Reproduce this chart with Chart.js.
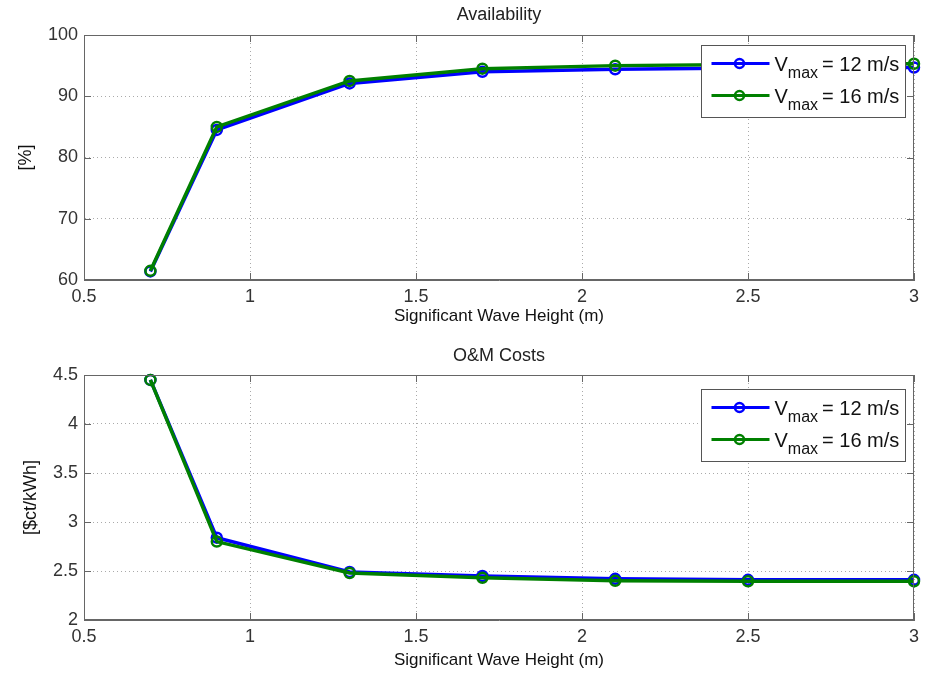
<!DOCTYPE html>
<html>
<head>
  <meta charset="utf-8">
  <script src="https://cdn.jsdelivr.net/npm/chart.js"></script>
  <style>
    body { margin: 0; background: #fff; }
    canvas { display: block; }
  </style>
</head>
<body>
  <canvas id="availChart" width="926" height="336"></canvas>
  <canvas id="costChart" width="926" height="337"></canvas>
  <script>
    // data
    const waveHeights = [0.7, 0.9, 1.3, 1.7, 2.1, 2.5, 3.0];
    const vmaxSpeeds = [12, 16];
    const availV12 = [61.4, 84.5, 92.1, 94.0, 94.4, 94.6, 94.7];
    const availV16 = [61.5, 85.0, 92.5, 94.5, 95.0, 95.2, 95.3];
    const costV12 = [4.45, 2.84, 2.49, 2.45, 2.42, 2.41, 2.41];
    const costV16 = [4.45, 2.80, 2.48, 2.43, 2.40, 2.395, 2.395];

    const FONT = '"Liberation Sans", Arial, sans-serif';
    const seriesColors = ['#0000ff', '#008000'];

    function toPoints(values) {
      return waveHeights.map((h, i) => ({ x: h, y: values[i] }));
    }

    // tick labels like matlab: 1 not 1.0
    const tickText = v => String(Math.round(v * 10) / 10);

    // MATLAB style box: title over axes, frame, inner ticks, legend with subscript
    const matlabAxes = {
      id: 'matlabAxes',
      afterDraw(chart, args, opts) {
        const { ctx, chartArea: a, scales: { x, y } } = chart;
        ctx.save();
        ctx.font = '18px ' + FONT;
        ctx.fillStyle = '#222';
        ctx.textAlign = 'center';
        ctx.textBaseline = 'middle';
        ctx.fillText(opts.title, (a.left + a.right) / 2, opts.titleY);

        ctx.strokeStyle = '#666';
        ctx.lineWidth = 1;
        ctx.beginPath();
        x.ticks.forEach(t => {
          const px = Math.round(x.getPixelForValue(t.value)) + 0.5;
          ctx.moveTo(px, a.bottom); ctx.lineTo(px, a.bottom - 7);
          ctx.moveTo(px, a.top); ctx.lineTo(px, a.top + 7);
        });
        y.ticks.forEach(t => {
          const py = Math.round(y.getPixelForValue(t.value)) + 0.5;
          ctx.moveTo(a.left, py); ctx.lineTo(a.left + 7, py);
          ctx.moveTo(a.right, py); ctx.lineTo(a.right - 7, py);
        });
        ctx.stroke();
        ctx.strokeRect(Math.round(a.left) + 0.5, Math.round(a.top) + 0.5,
          Math.round(a.width) - 1, Math.round(a.height) - 1);

        // legend
        const bw = 204, bh = 72;
        const bx = Math.round(a.right - 9 - bw) + 0.5;
        const by = Math.round(a.top + opts.legendTop) + 0.5;
        ctx.fillStyle = '#fff';
        ctx.fillRect(bx, by, bw, bh);
        ctx.strokeStyle = '#555';
        ctx.strokeRect(bx, by, bw, bh);
        chart.data.datasets.forEach((ds, i) => {
          const ry = by + 18 + i * 32;
          ctx.strokeStyle = ds.borderColor;
          ctx.lineWidth = 3;
          ctx.beginPath();
          ctx.moveTo(bx + 10, ry); ctx.lineTo(bx + 68, ry);
          ctx.stroke();
          ctx.lineWidth = 2.5;
          ctx.beginPath();
          ctx.arc(bx + 38, ry, 4.5, 0, Math.PI * 2);
          ctx.stroke();
          ctx.fillStyle = '#111';
          ctx.textAlign = 'left';
          ctx.textBaseline = 'alphabetic';
          let tx = bx + 73;
          ctx.font = '20px ' + FONT;
          ctx.fillText('V', tx, ry + 7);
          tx += ctx.measureText('V').width;
          ctx.font = '16px ' + FONT;
          ctx.fillText('max', tx, ry + 14);
          tx += ctx.measureText('max').width + 4;
          ctx.font = '20px ' + FONT;
          ctx.fillText('= ' + ds.label.split(' = ')[1], tx, ry + 7);
        });
        ctx.restore();
      }
    };

    function makeChart(id, opts) {
      return new Chart(document.getElementById(id), {
        type: 'line',
        data: {
          datasets: opts.series.map((vals, i) => ({
            label: 'Vmax = ' + vmaxSpeeds[i] + ' m/s',
            data: toPoints(vals),
            order: opts.series.length - i, // green drawn over blue
            clip: false,
            borderColor: seriesColors[i],
            borderWidth: 3.5,
            pointRadius: 5,
            pointBorderWidth: 2.5,
            pointBackgroundColor: 'rgba(0,0,0,0)',
            pointBorderColor: seriesColors[i],
            tension: 0
          }))
        },
        options: {
          responsive: false,
          animation: false,
          layout: { padding: { top: opts.top, right: 12, left: 0, bottom: 0 } },
          plugins: {
            legend: { display: false },
            tooltip: { enabled: false },
            matlabAxes: { title: opts.title, titleY: opts.titleY, legendTop: opts.legendTop }
          },
          scales: {
            x: {
              type: 'linear',
              min: 0.5, max: 3,
              afterFit: s => { s.height = opts.xHeight; s.paddingLeft = 0; s.paddingRight = 0; },
              ticks: { stepSize: 0.5, padding: 6, color: '#333', font: { family: FONT, size: 18 }, callback: tickText },
              grid: { drawTicks: false, color: '#aaa', lineWidth: 1 },
              border: { color: '#666', dash: [1, 3] },
              title: {
                display: true, text: 'Significant Wave Height (m)', color: '#111',
                font: { family: FONT, size: 17 }, padding: { top: 0, bottom: opts.xTitlePad }
              }
            },
            y: {
              min: opts.yMin, max: opts.yMax,
              afterFit: s => { s.width = 84; },
              ticks: { stepSize: opts.yStep, padding: 6, color: '#333', font: { family: FONT, size: 18 }, callback: tickText },
              grid: { drawTicks: false, color: '#aaa', lineWidth: 1 },
              border: { color: '#666', dash: [1, 3] },
              title: {
                display: true, text: opts.yLabel, color: '#111',
                font: { family: FONT, size: 18 }, padding: { top: opts.yTitlePad, bottom: 0 }
              }
            }
          }
        },
        plugins: [matlabAxes]
      });
    }

    makeChart('availChart', {
      series: [availV12, availV16],
      title: 'Availability', titleY: 15, top: 35, legendTop: 10,
      xHeight: 56, xTitlePad: 9,
      yMin: 60, yMax: 100, yStep: 10, yLabel: '[%]', yTitlePad: 15
    });

    makeChart('costChart', {
      series: [costV12, costV16],
      title: 'O&M Costs', titleY: 20, top: 39, legendTop: 14,
      xHeight: 53, xTitlePad: 2,
      yMin: 2, yMax: 4.5, yStep: 0.5, yLabel: '[$ct/kWh]', yTitlePad: 20
    });
  </script>
</body>
</html>
